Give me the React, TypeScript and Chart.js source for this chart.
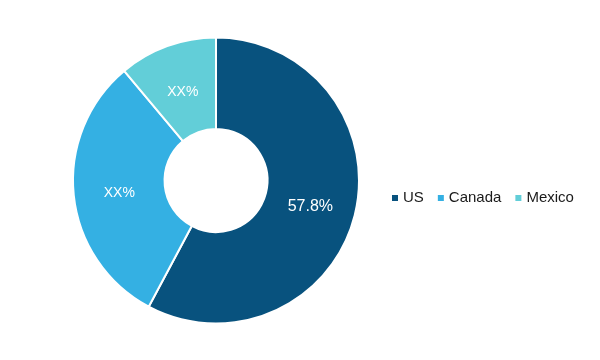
import React, { useEffect, useRef } from "react";
import { Chart, registerables } from "chart.js";

Chart.register(...registerables);

const categories = ["US", "Canada", "Mexico"];
const shares = [57.8, 31.1, 11.1];
const sliceLabels = ["57.8%", "XX%", "XX%"];
const colors = ["#08527E", "#34B0E3", "#62CED8"];

const FONT = "Arial, 'Liberation Sans', Helvetica, sans-serif";

const sliceLabelPlugin = {
  id: "sliceLabels",
  afterDatasetsDraw(chart: any) {
    const ctx = chart.ctx;
    const meta = chart.getDatasetMeta(0);
    ctx.save();
    ctx.fillStyle = "#ffffff";
    ctx.textAlign = "center";
    ctx.textBaseline = "middle";
    meta.data.forEach((arc: any, i: number) => {
      const p = arc.tooltipPosition();
      ctx.font = (i === 0 ? "16px " : "14px ") + FONT;
      ctx.fillText(sliceLabels[i], p.x, p.y + 3);
    });
    ctx.restore();
  },
};

const legendPlugin = {
  id: "customLegend",
  afterDraw(chart: any) {
    const ctx = chart.ctx;
    ctx.save();
    ctx.font = "15px " + FONT;
    ctx.textBaseline = "middle";
    ctx.textAlign = "left";
    let x = 392;
    const y = 198;
    const box = 6;
    categories.forEach((c, i) => {
      ctx.fillStyle = colors[i];
      ctx.fillRect(x, y - box / 2, box, box);
      x += box + 5;
      ctx.fillStyle = "#1a1a1a";
      ctx.fillText(c, x, y);
      x += ctx.measureText(c).width + 14;
    });
    ctx.restore();
  },
};

export default function App() {
  const ref = useRef<HTMLCanvasElement | null>(null);
  useEffect(() => {
    document.body.style.margin = "0";
    if (!ref.current) return;
    const chart = new Chart(ref.current, {
      type: "doughnut",
      data: {
        labels: categories,
        datasets: [
          {
            data: shares,
            backgroundColor: colors,
            borderColor: "#ffffff",
            borderWidth: 2,
          },
        ],
      },
      options: {
        animation: false,
        responsive: false,
        cutout: "36%",
        layout: { padding: { left: 72, right: 240, top: 36, bottom: 35 } },
        plugins: {
          legend: { display: false },
          tooltip: { enabled: false },
        },
      },
      plugins: [sliceLabelPlugin, legendPlugin],
    });
    return () => chart.destroy();
  }, []);
  return (
    <div style={{ width: 600, height: 360, background: "#ffffff" }}>
      <canvas ref={ref} width={600} height={360} />
    </div>
  );
}
